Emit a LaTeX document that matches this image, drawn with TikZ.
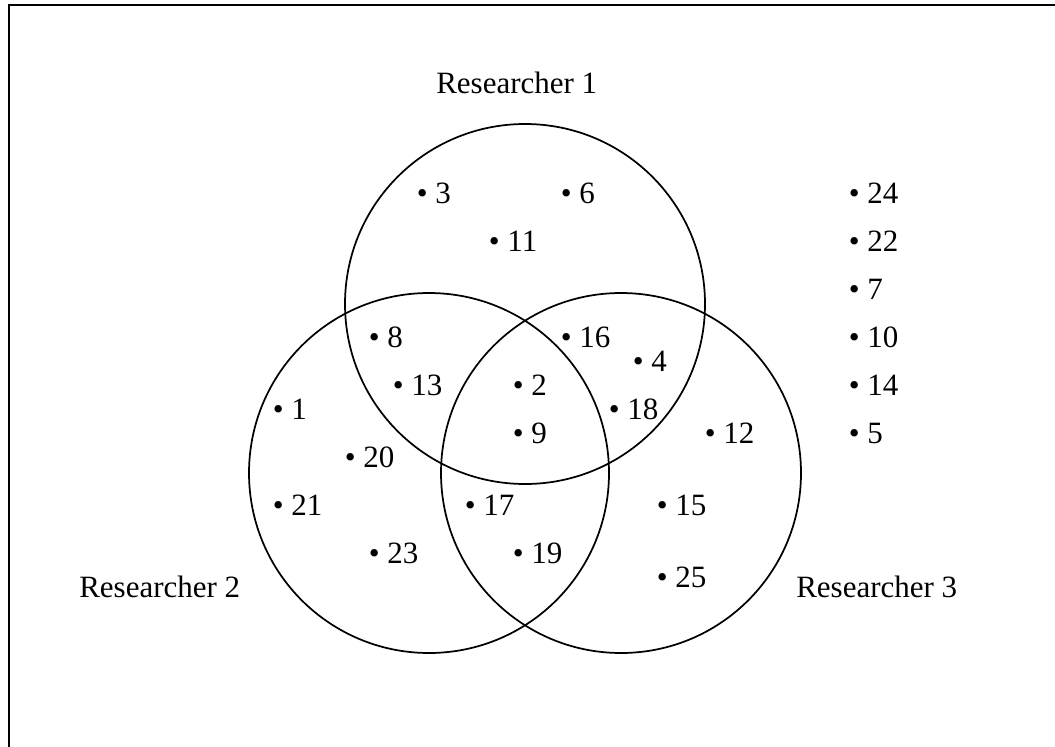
\documentclass[tikz,border=0pt]{standalone}
\usepackage{fontspec}
\setmainfont{Liberation Serif}
\begin{document}
\begin{tikzpicture}[x=0.75pt,y=-0.75pt,
  txt/.style={font=\fontsize{23.25}{28}\selectfont, inner sep=0pt},
  num/.style={txt, anchor=base west, xshift=-4.05pt, yshift=-8.25pt},
  lab/.style={txt, anchor=base west},
  set/.style={draw=black, line width=1.3pt},
  frame/.style={draw=black, line width=1.6pt}]
\useasboundingbox (0,0) rectangle (1055,746);
\draw[frame] (9,760) -- (9,5) -- (1070,5);
% sets
\node[set, circle, minimum size=270pt, inner sep=0pt] (c1) at (525,304) {};
\node[set, circle, minimum size=270pt, inner sep=0pt] (c2) at (429,473) {};
\node[set, circle, minimum size=270pt, inner sep=0pt] (c3) at (621,473) {};
% labels
\node[lab] (r1) at (436,93) {Researcher 1};
\node[lab] (r2) at (79,597) {Researcher 2};
\node[lab] (r3) at (796,597) {Researcher 3};
% items
\node[num] (n3) at (422,192) {• 3};
\node[num] (n6) at (566,192) {• 6};
\node[num] (n11) at (494,240) {• 11};
\node[num] (n8) at (374,336) {• 8};
\node[num] (n16) at (566,336) {• 16};
\node[num] (n4) at (638,360) {• 4};
\node[num] (n13) at (398,384) {• 13};
\node[num] (n2) at (518,384) {• 2};
\node[num] (n1) at (278,408) {• 1};
\node[num] (n18) at (614,408) {• 18};
\node[num] (n9) at (518,432) {• 9};
\node[num] (n12) at (710,432) {• 12};
\node[num] (n20) at (350,456) {• 20};
\node[num] (n21) at (278,504) {• 21};
\node[num] (n17) at (470,504) {• 17};
\node[num] (n15) at (662,504) {• 15};
\node[num] (n23) at (374,552) {• 23};
\node[num] (n19) at (518,552) {• 19};
\node[num] (n25) at (662,576) {• 25};
% outside
\node[num] (n24) at (854,192) {• 24};
\node[num] (n22) at (854,240) {• 22};
\node[num] (n7) at (854,288) {• 7};
\node[num] (n10) at (854,336) {• 10};
\node[num] (n14) at (854,384) {• 14};
\node[num] (n5) at (854,432) {• 5};
\end{tikzpicture}
\end{document}
